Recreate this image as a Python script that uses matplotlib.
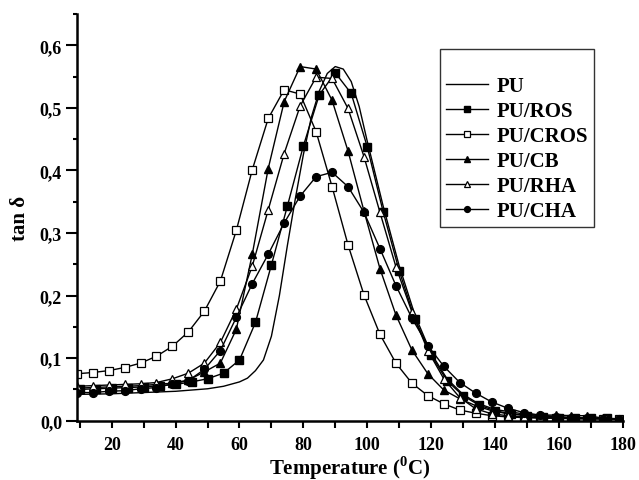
import numpy as np
import matplotlib
matplotlib.use("Agg")
import matplotlib.pyplot as plt
from matplotlib.ticker import MultipleLocator, FuncFormatter

plt.rcParams['font.family'] = ['Liberation Serif', 'DejaVu Serif']
plt.rcParams['font.weight'] = 'bold'
plt.rcParams['mathtext.fontset'] = 'custom'
plt.rcParams['mathtext.rm'] = 'Liberation Serif:bold'
plt.rcParams['mathtext.bf'] = 'Liberation Serif:bold'

# temperatures (degC)
t_a = np.arange(9, 180, 5)      # CROS, CB, RHA, CHA
t_ros = np.arange(10, 180, 5)   # ROS

# PU: plain line
t_pu = [9, 20, 30, 40, 50, 55, 60, 62.5, 65, 67.5, 70, 72.5, 75, 77.5, 80, 82.5,
        85, 87.5, 90, 92.5, 95, 97.5, 100, 105, 110, 115, 120, 125, 130, 135,
        140, 150, 160, 170, 180]
pu = [0.042, 0.043, 0.045, 0.047, 0.051, 0.055, 0.062, 0.068, 0.080, 0.097, 0.135,
      0.20, 0.28, 0.355, 0.425, 0.485, 0.527, 0.555, 0.566, 0.562, 0.542, 0.502,
      0.447, 0.343, 0.248, 0.168, 0.108, 0.067, 0.042, 0.027, 0.018, 0.010,
      0.006, 0.004, 0.003]

ros = [0.050, 0.051, 0.052, 0.053, 0.054, 0.056, 0.058, 0.062, 0.067, 0.076, 0.097,
       0.157, 0.249, 0.343, 0.439, 0.521, 0.556, 0.523, 0.438, 0.334, 0.240, 0.162,
       0.105, 0.064, 0.040, 0.025, 0.016, 0.011, 0.008, 0.006, 0.005, 0.004,
       0.004, 0.004]

cros = [0.075, 0.077, 0.080, 0.085, 0.092, 0.103, 0.119, 0.142, 0.175, 0.223, 0.304,
        0.401, 0.483, 0.529, 0.522, 0.462, 0.374, 0.281, 0.201, 0.138, 0.092, 0.060,
        0.040, 0.027, 0.017, 0.012, 0.008, 0.006, 0.005, 0.004, 0.004, 0.003,
        0.003, 0.003, 0.003]

cb = [0.052, 0.053, 0.054, 0.055, 0.056, 0.058, 0.060, 0.065, 0.078, 0.092, 0.146,
      0.266, 0.403, 0.510, 0.566, 0.562, 0.512, 0.431, 0.335, 0.243, 0.169, 0.113,
      0.075, 0.049, 0.035, 0.024, 0.016, 0.011, 0.009, 0.009, 0.009, 0.008,
      0.008, 0.004, 0.003]

rha = [0.055, 0.056, 0.057, 0.058, 0.059, 0.061, 0.067, 0.076, 0.092, 0.125, 0.178,
       0.247, 0.337, 0.427, 0.503, 0.549, 0.547, 0.499, 0.422, 0.333, 0.246, 0.174,
       0.112, 0.067, 0.037, 0.019, 0.011, 0.008, 0.006, 0.005, 0.004, 0.004,
       0.003, 0.003, 0.003]

cha = [0.045, 0.045, 0.047, 0.048, 0.051, 0.053, 0.059, 0.064, 0.082, 0.112, 0.165,
       0.219, 0.266, 0.316, 0.359, 0.390, 0.397, 0.374, 0.333, 0.275, 0.216, 0.164,
       0.120, 0.087, 0.061, 0.044, 0.030, 0.020, 0.013, 0.009, 0.006, 0.005,
       0.004, 0.003, 0.002]

fig = plt.figure(figsize=(6.39, 4.81), dpi=100)
ax = fig.add_axes([0.121, 0.1233, 0.8533, 0.8455])

ax.plot(t_pu, pu, color='black', lw=1.0, label='PU')
ax.plot(t_ros, ros, color='black', lw=1.0, marker='s', ms=5.2, mfc='black', mec='black', label='PU/ROS')
ax.plot(t_a, cros, color='black', lw=1.0, marker='s', ms=5.2, mfc='white', mec='black', mew=0.9, label='PU/CROS')
ax.plot(t_a, cb, color='black', lw=1.0, marker='^', ms=6.2, mfc='black', mec='black', label='PU/CB')
ax.plot(t_a, rha, color='black', lw=1.0, marker='^', ms=6.2, mfc='white', mec='black', mew=0.9, label='PU/RHA')
ax.plot(t_a, cha, color='black', lw=1.0, marker='o', ms=5.6, mfc='black', mec='black', label='PU/CHA')

ax.set_xlim(9.2, 180)
ax.set_ylim(0, 0.65)
ax.xaxis.set_major_locator(MultipleLocator(20))
ax.xaxis.set_minor_locator(MultipleLocator(10))
ax.yaxis.set_major_locator(MultipleLocator(0.1))
ax.yaxis.set_minor_locator(MultipleLocator(0.05))
ax.yaxis.set_major_formatter(FuncFormatter(lambda v, p: f"{v:.1f}".replace('.', ',')))

for s in ['top', 'right']:
    ax.spines[s].set_visible(False)
for s in ['left', 'bottom']:
    ax.spines[s].set_linewidth(1.8)

ax.tick_params(axis='both', which='both', direction='out', width=1.5, labelsize=13)
ax.tick_params(axis='x', which='major', length=5, pad=6)
ax.tick_params(axis='x', which='minor', length=5)
ax.tick_params(axis='y', which='major', length=8, pad=3)
ax.tick_params(axis='y', which='minor', length=3)
for lab in ax.get_xticklabels() + ax.get_yticklabels():
    lab.set_fontweight('bold')

ax.set_xlabel(r'Temperature ($^{0}$C)', fontsize=15, fontweight='bold', labelpad=0)
ax.set_ylabel('tan δ', fontsize=15, fontweight='bold', labelpad=7)

leg = ax.legend(loc='upper left', bbox_to_anchor=(0.665, 0.914), frameon=True,
                fancybox=False, edgecolor='black', title=' ',
                prop={'size': 15, 'weight': 'bold'}, handlelength=2.0,
                handletextpad=0.4, labelspacing=0.24, borderpad=0.3,
                borderaxespad=0, markerscale=0.75)
leg.get_frame().set_linewidth(1.0)
leg.get_title().set_fontsize(12)

fig.savefig('out.png', dpi=100)
